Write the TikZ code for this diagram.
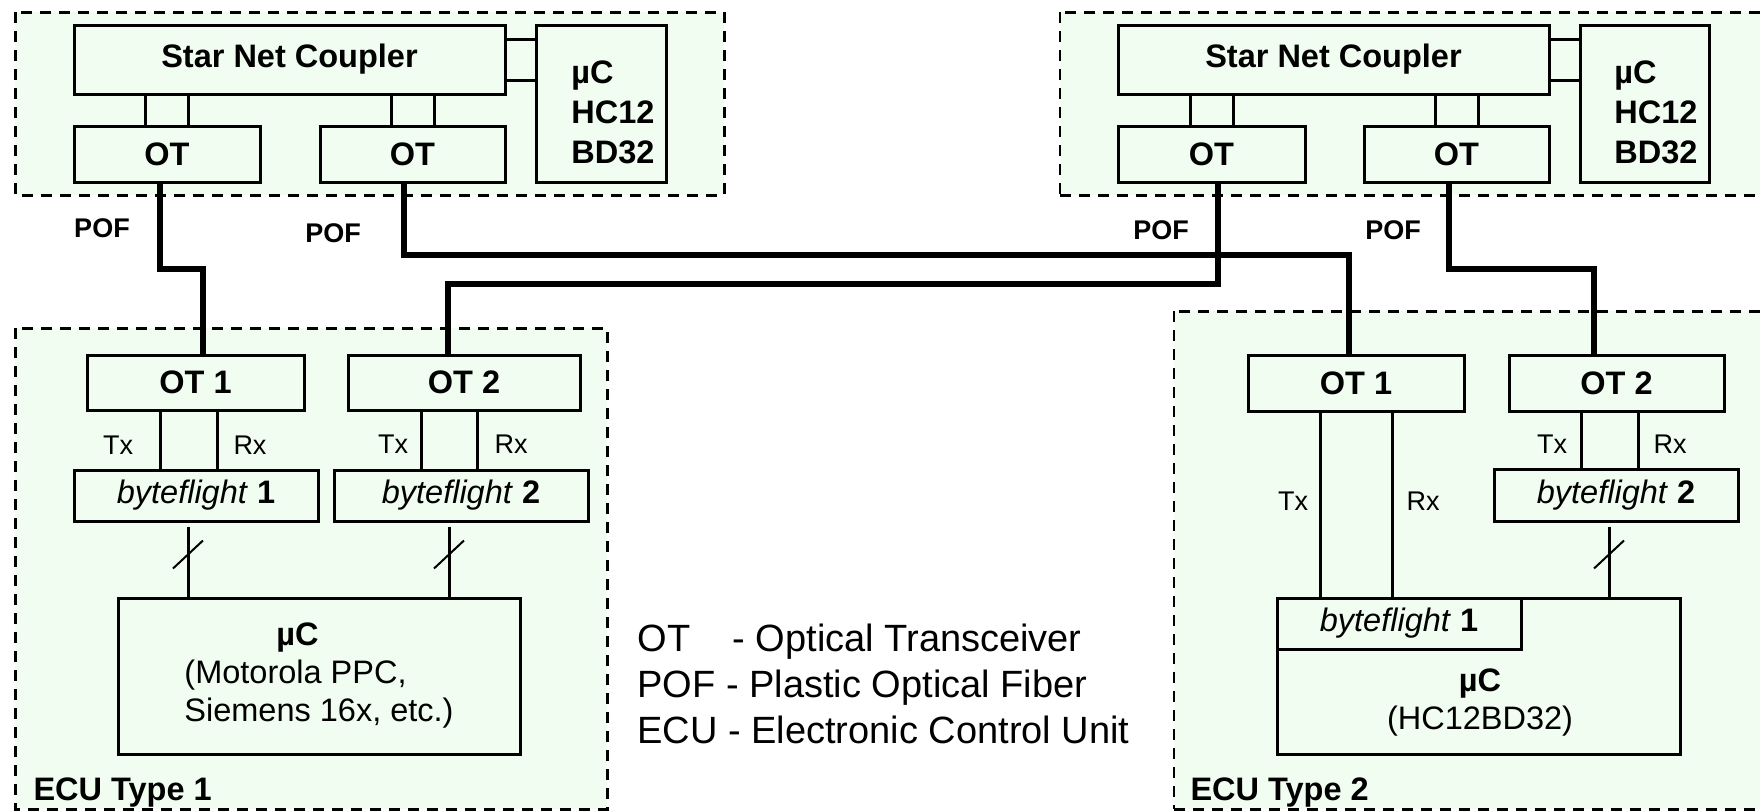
\documentclass[tikz,border=0pt]{standalone}
\usepackage{fontspec}
\setmainfont{Liberation Sans}
\usetikzlibrary{calc}
\definecolor{ecugreen}{RGB}{240,253,240}

\begin{document}
\begin{tikzpicture}[x=1pt,y=-1pt,
  box/.style={draw,line width=3pt,inner sep=0pt},
  zone/.style={draw,line width=3pt,dash pattern=on 11pt off 8pt},
  thinzone/.style={draw,line width=1.5pt,dash pattern=on 11pt off 8pt},
  wire/.style={line width=3pt},
  fiber/.style={line width=6pt},
  slash/.style={line width=2pt},
  big/.style={font=\fontsize{32.5}{40}\selectfont\bfseries},
  norm/.style={font=\fontsize{32.5}{38}\selectfont},
  small/.style={font=\fontsize{27}{32}\selectfont},
  pof/.style={font=\fontsize{27}{32}\selectfont\bfseries},
  legend/.style={font=\fontsize{38}{46}\selectfont,anchor=base west}]
  \useasboundingbox (0,0) rectangle (1760,811);

  % green areas and dashed borders
  \fill[ecugreen] (15,12) rectangle (724,195);
  \fill[ecugreen] (1060,12) rectangle (1760,195);
  \fill[ecugreen] (15,328) rectangle (607,809);
  \fill[ecugreen] (1174,311) rectangle (1760,809);
  \draw[zone] (15,12) rectangle (724,195);
  \draw[zone] (1760,12) -- (1060,12) (1060,195) -- (1760,195);
  \draw[thinzone] (1060,12) -- (1060,195);
  \draw[zone] (15,328) rectangle (607,809);
  \draw[zone] (1760,311) -- (1174,311) (1174,809) -- (1760,809);
  \draw[thinzone] (1174,311) -- (1174,809);

  % star couplers
  \node[box,big,minimum width=431pt,minimum height=69pt] (snA) at (289.5,59.5) {Star Net Coupler};
  \node[box,minimum width=130pt,minimum height=157pt] (ucA) at (601,103.5) {};
  \node[big,align=left] (ucAtxt) at (613,112) {µC\\HC12\\BD32};
  \node[box,big,minimum width=186pt,minimum height=56pt] (otA1) at (167,154) {OT};
  \node[box,big,minimum width=185pt,minimum height=56pt] (otA2) at (412.5,154) {OT};

  \node[box,big,minimum width=431pt,minimum height=69pt] (snB) at (1333.5,59.5) {Star Net Coupler};
  \node[box,minimum width=129pt,minimum height=157pt] (ucB) at (1644.5,103.5) {};
  \node[big,align=left] (ucBtxt) at (1656,112) {µC\\HC12\\BD32};
  \node[box,big,minimum width=187pt,minimum height=56pt] (otB1) at (1211.5,154) {OT};
  \node[box,big,minimum width=185pt,minimum height=56pt] (otB2) at (1456.5,154) {OT};

  \foreach \o/\s in {otA1/snA,otA2/snA,otB1/snB,otB2/snB}
    \foreach \dx in {-21.5,21.5}
      \draw[wire] ([xshift=\dx pt]\o.north) -- ([xshift=\dx pt]\o.north |- \s.south);
  \foreach \s/\u in {snA/ucA,snB/ucB}
    \foreach \dy in {-20.5,20.5}
      \draw[wire] ([yshift=\dy pt]\s.east) -- ([yshift=\dy pt]\s.east -| \u.west);

  % ECU type 1
  \node[box,big,minimum width=217pt,minimum height=55pt] (otC1) at (195.5,382.5) {OT 1};
  \node[box,big,minimum width=232pt,minimum height=55pt] (otC2) at (464,382.5) {OT 2};
  \node[box,norm,minimum width=244pt,minimum height=51pt] (bfC1) at (196,495.5) {\textit{byteflight} \textbf{1}};
  \node[box,norm,minimum width=254pt,minimum height=51pt] (bfC2) at (461,495.5) {\textit{byteflight} \textbf{2}};
  \node[box,norm,minimum width=402pt,minimum height=156pt,align=left] (ucC) at (319,676)
    {\hspace*{92pt}\textbf{µC}\\(Motorola PPC,\\Siemens 16x, etc.)};
  \node[big,anchor=base west] (ecuC) at (30,800) {ECU Type 1};

  % ECU type 2
  \node[box,big,minimum width=216pt,minimum height=56pt] (otD1) at (1356,383) {OT 1};
  \node[box,big,minimum width=215pt,minimum height=56pt] (otD2) at (1616.5,383) {OT 2};
  \node[box,norm,minimum width=244pt,minimum height=52pt] (bfD2) at (1616,495) {\textit{byteflight} \textbf{2}};
  \node[box,minimum width=403pt,minimum height=156pt] (ucD) at (1478.5,676) {};
  \node[box,norm,minimum width=244pt,minimum height=51pt] (bfD1) at (1399,623.5) {\textit{byteflight} \textbf{1}};
  \node[norm,align=center] (ucDtxt) at (1480,703) {\textbf{µC}\\(HC12BD32)};
  \node[big,anchor=base west] (ecuD) at (1187,800) {ECU Type 2};

  % Tx / Rx
  \foreach \o/\b/\dl/\dr in {otC1/bfC1/-35.5/21.5,otC2/bfC2/-43/13,otD2/bfD2/-35.5/21.5}
    \foreach \dx in {\dl,\dr}
      \draw[wire] ([xshift=\dx pt]\o.south) -- ([xshift=\dx pt]\o.south |- \b.north);
  \foreach \dx in {-36,36}
    \draw[wire] ([xshift=\dx pt]otD1.south) -- ([xshift=\dx pt]otD1.south |- ucD.north);
  \node[small] (txC1) at (118,445) {Tx};
  \node[small] (rxC1) at (250,445) {Rx};
  \node[small] (txC2) at (393,444) {Tx};
  \node[small] (rxC2) at (511,444) {Rx};
  \node[small] (txD1) at (1293,501) {Tx};
  \node[small] (rxD1) at (1423,501) {Rx};
  \node[small] (txD2) at (1552,444) {Tx};
  \node[small] (rxD2) at (1670,444) {Rx};

  % parallel buses
  \foreach \b/\u/\n/\dx in {bfC1/ucC/1/-8,bfC2/ucC/2/-12,bfD2/ucD/3/-7} {
    \draw[wire] ([xshift=\dx pt,yshift=-4pt]\b.south) -- ([xshift=\dx pt]\b.south |- \u.north) coordinate[pos=0.4] (cut\n);
    \draw[slash] ($(cut\n)+(-15,14)$) -- ($(cut\n)+(15,-14)$);
  }

  % plastic optical fibers
  \draw[fiber] ([xshift=-7pt]otA1.south) -- ++(0,85) -| ([xshift=7.5pt]otC1.north);
  \draw[fiber] ([xshift=-8.5pt]otA2.south) -- ++(0,71) -| ([xshift=-7pt]otD1.north);
  \draw[fiber] ([xshift=6.5pt]otB1.south) -- ++(0,100) -| ([xshift=-16pt]otC2.north);
  \draw[fiber] ([xshift=-7.5pt]otB2.south) -- ++(0,85) -| ([xshift=-22.5pt]otD2.north);
  \node[pof] (pofA1) at (102,228) {POF};
  \node[pof] (pofA2) at (333,233) {POF};
  \node[pof] (pofB1) at (1161,230) {POF};
  \node[pof] (pofB2) at (1393,230) {POF};

  % legend
  \node[legend] (lgOT) at (634,651) {\makebox[95pt][l]{OT}- Optical Transceiver};
  \node[legend] (lgPOF) at (634,697) {POF - Plastic Optical Fiber};
  \node[legend] (lgECU) at (634,743) {ECU - Electronic Control Unit};
\end{tikzpicture}
\end{document}
